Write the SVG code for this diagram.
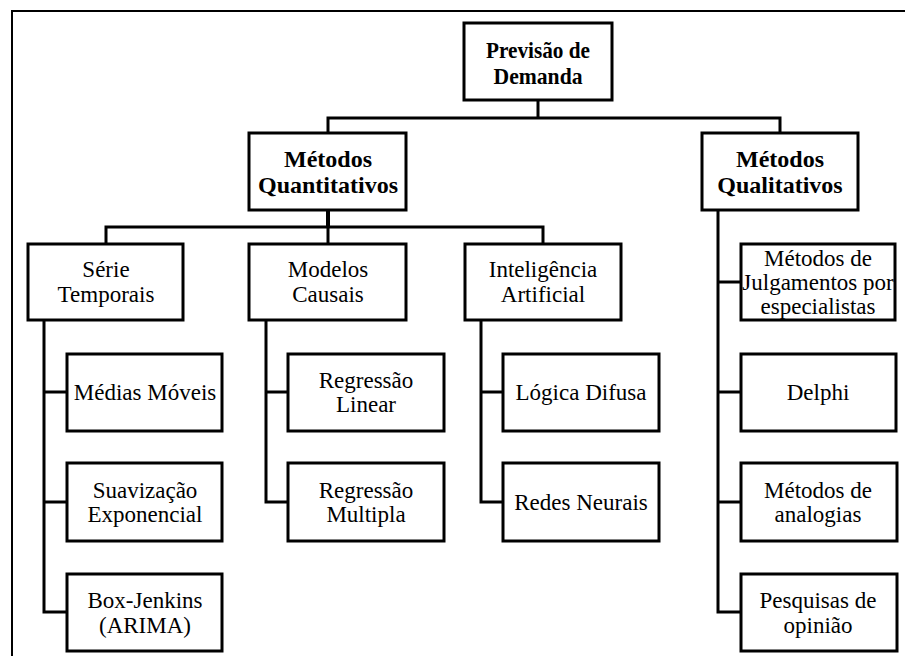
<svg xmlns="http://www.w3.org/2000/svg" width="905" height="656" viewBox="0 0 905 656">
<style>
.box{fill:#fff;stroke:#000;stroke-width:3}
text{font-family:'Liberation Serif','Times New Roman',serif;font-size:23px;fill:#000;text-anchor:middle}
.b{font-weight:bold;font-size:24px}
.c{fill:none;stroke:#000;stroke-width:3;stroke-linejoin:miter}
.frame{fill:none;stroke:#000;stroke-width:2}
</style>
<rect width="905" height="656" fill="#fff"/>
<polyline class="frame" points="12,656 12,11 905,11"/>
<g id="connectors">
<polyline class="c" points="538,100 538,118"/>
<polyline class="c" points="328,133 328,118 780,118 780,133"/>
<polyline class="c" style="stroke-width:4" points="328,210 328,227"/>
<polyline class="c" points="106,244 106,227 543,227 543,244"/>
<polyline class="c" points="328,227 328,244"/>
<polyline class="c" points="44,320 44,612 67,612"/>
<polyline class="c" points="44,392 67,392"/>
<polyline class="c" points="44,502 67,502"/>
<polyline class="c" points="266,320 266,502 288,502"/>
<polyline class="c" points="266,392 288,392"/>
<polyline class="c" points="481,320 481,502 503,502"/>
<polyline class="c" points="481,392 503,392"/>
<polyline class="c" points="718,210 718,612 741,612"/>
<polyline class="c" points="718,282 741,282"/>
<polyline class="c" points="718,392 741,392"/>
<polyline class="c" points="718,502 741,502"/>
</g>
<g id="previsao"><rect class="box" x="464" y="23" width="148" height="77"/><text class="b" x="538" y="58" textLength="104" lengthAdjust="spacingAndGlyphs">Previsão de</text><text class="b" x="538" y="84" textLength="89" lengthAdjust="spacingAndGlyphs">Demanda</text></g>
<g id="quantitativos"><rect class="box" x="249" y="133" width="157" height="77"/><text class="b" x="328" y="167">Métodos</text><text class="b" x="328" y="193">Quantitativos</text></g>
<g id="qualitativos"><rect class="box" x="702" y="133" width="156" height="77"/><text class="b" x="780" y="167">Métodos</text><text class="b" x="780" y="193">Qualitativos</text></g>
<g id="serie"><rect class="box" x="28" y="244" width="155" height="76"/><text x="106" y="277">Série</text><text x="106" y="302">Temporais</text></g>
<g id="causais"><rect class="box" x="249" y="244" width="157" height="76"/><text x="328" y="277">Modelos</text><text x="328" y="302">Causais</text></g>
<g id="ia"><rect class="box" x="465" y="244" width="156" height="76"/><text x="543" y="277">Inteligência</text><text x="543" y="302">Artificial</text></g>
<g id="julgamentos"><rect class="box" x="741" y="244" width="154" height="76"/><text x="818" y="266">Métodos de</text><text x="818" y="290">Julgamentos por</text><text x="818" y="314">especialistas</text></g>
<g id="medias"><rect class="box" x="67" y="354" width="155" height="77"/><text x="145" y="400">Médias Móveis</text></g>
<g id="linear"><rect class="box" x="288" y="354" width="156" height="77"/><text x="366" y="388">Regressão</text><text x="366" y="412">Linear</text></g>
<g id="difusa"><rect class="box" x="503" y="354" width="156" height="77"/><text x="581" y="400">Lógica Difusa</text></g>
<g id="delphi"><rect class="box" x="741" y="354" width="155" height="77"/><text x="818" y="400">Delphi</text></g>
<g id="suavizacao"><rect class="box" x="67" y="463" width="155" height="78"/><text x="145" y="498">Suavização</text><text x="145" y="522">Exponencial</text></g>
<g id="multipla"><rect class="box" x="288" y="463" width="156" height="78"/><text x="366" y="498">Regressão</text><text x="366" y="522">Multipla</text></g>
<g id="redes"><rect class="box" x="503" y="463" width="156" height="78"/><text x="581" y="510">Redes Neurais</text></g>
<g id="analogias"><rect class="box" x="741" y="463" width="156" height="78"/><text x="818" y="498">Métodos de</text><text x="818" y="522">analogias</text></g>
<g id="boxjenkins"><rect class="box" x="67" y="574" width="155" height="77"/><text x="145" y="608">Box-Jenkins</text><text x="145" y="633">(ARIMA)</text></g>
<g id="pesquisas"><rect class="box" x="741" y="574" width="156" height="77"/><text x="818" y="608">Pesquisas de</text><text x="818" y="633">opinião</text></g>
</svg>
